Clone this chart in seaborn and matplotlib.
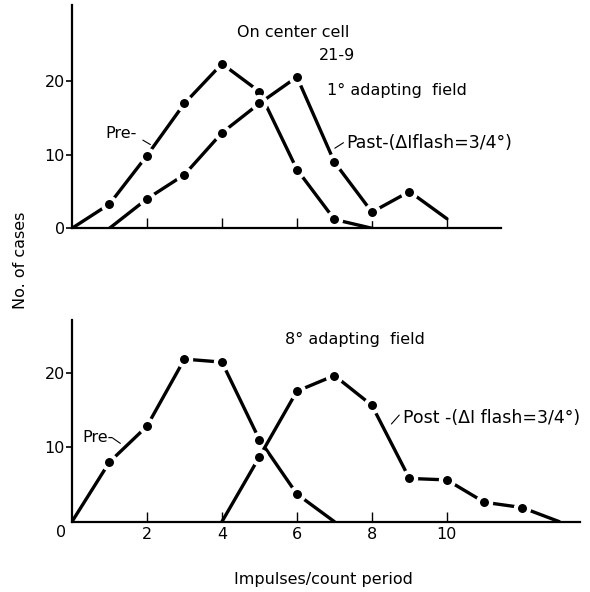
import matplotlib
matplotlib.use("Agg")
import matplotlib.pyplot as plt
import seaborn as sns

# values (no. of cases per impulse count)
top_pre_x = [0, 1, 2, 3, 4, 5, 6, 7, 8]
top_pre_y = [0, 3.3, 9.9, 17, 22.4, 18.6, 8, 1.2, 0]
top_post_x = [1, 2, 3, 4, 5, 6, 7, 8, 9, 10]
top_post_y = [0, 4, 7.3, 13, 17, 20.6, 9, 2.2, 5, 1.3]

bot_pre_x = [0, 1, 2, 3, 4, 5, 6, 7]
bot_pre_y = [0, 8, 12.8, 21.8, 21.4, 11, 3.7, 0]
bot_post_x = [4, 5, 6, 7, 8, 9, 10, 11, 12, 13]
bot_post_y = [0, 8.7, 17.5, 19.6, 15.6, 5.8, 5.6, 2.6, 1.9, 0]

x_ticks = [2, 4, 6, 8, 10]
y_ticks = [10, 20]

sns.set_style("ticks")
plt.rcParams['font.family'] = ['DejaVu Sans']
plt.rcParams['font.size'] = 11.5
plt.rcParams['text.color'] = 'black'
plt.rcParams['xtick.color'] = 'black'
plt.rcParams['ytick.color'] = 'black'
plt.rcParams['xtick.labelcolor'] = 'black'
plt.rcParams['ytick.labelcolor'] = 'black'

fig = plt.figure(figsize=(5.9, 5.92), dpi=100)
ax1 = fig.add_axes([0.122, 0.6144, 0.7264, 0.3772])
ax2 = fig.add_axes([0.122, 0.1188, 0.861, 0.3407])

line_kw = dict(color="black", linewidth=2.4, marker="o", markersize=9.5,
               markerfacecolor="black", markeredgecolor="white",
               markeredgewidth=3)


def draw(ax, xs, ys):
    sns.lineplot(x=xs, y=ys, ax=ax, markevery=list(range(1, len(xs) - 1)),
                 **line_kw)


draw(ax1, top_pre_x, top_pre_y)
draw(ax1, top_post_x, top_post_y)
draw(ax2, bot_pre_x, bot_pre_y)
draw(ax2, bot_post_x, bot_post_y)

ax1.set_xlim(0, 11.43)
ax1.set_ylim(0, 30.4)
ax2.set_xlim(0, 13.55)
ax2.set_ylim(0, 27.05)

for ax in (ax1, ax2):
    sns.despine(ax=ax)
    ax.spines["left"].set_linewidth(1.6)
    ax.spines["bottom"].set_linewidth(1.6)
    ax.spines["left"].set_color("black")
    ax.spines["bottom"].set_color("black")
    ax.set_xticks(x_ticks)
    ax.tick_params(axis="x", direction="in", length=7, width=1, pad=4,
                   labelsize=11.5)
    ax.tick_params(axis="y", direction="out", length=4, width=1.2, pad=1,
                   labelsize=11.5)
    ax.set_xlabel("")
    ax.set_ylabel("")

ax1.set_yticks([0] + y_ticks)
ax1.set_xticklabels([])
ax2.set_yticks(y_ticks)
ax2.set_xticklabels([str(t) for t in x_ticks])
ax2.text(-0.28, -0.45, "0", ha="center", va="top", fontsize=11.5)

# annotations, top panel
ax1.text(5.91, 26.7, "On center cell", ha="center", va="center")
ax1.text(7.08, 23.5, "21-9", ha="center", va="center")
ax1.text(6.81, 18.8, "1° adapting  field", ha="left", va="center")
ax1.text(0.89, 12.9, "Pre-", ha="left", va="center")
ax1.plot([1.89, 2.09], [12.0, 11.4], color="black", lw=0.8)
ax1.text(7.32, 11.6, "Past-(ΔIflash=3/4°)", ha="left", va="center",
         fontsize=12.5)
ax1.plot([7.01, 7.24], [10.9, 11.65], color="black", lw=0.8)

# annotations, bottom panel
ax2.text(5.68, 24.4, "8° adapting  field", ha="left", va="center")
ax2.text(0.29, 11.3, "Pre-", ha="left", va="center")
ax2.plot([1.09, 1.29], [11.2, 10.5], color="black", lw=0.8)
ax2.text(8.82, 13.9, "Post -(ΔI flash=3/4°)", ha="left", va="center",
         fontsize=12.5)
ax2.plot([8.52, 8.73], [13.1, 14.3], color="black", lw=0.8)

fig.text(0.034, 0.561, "No. of cases", rotation=90, ha="center", va="center")
fig.text(0.549, 0.0203, "Impulses/count period", ha="center", va="center")

fig.savefig("out.png", dpi=100)
